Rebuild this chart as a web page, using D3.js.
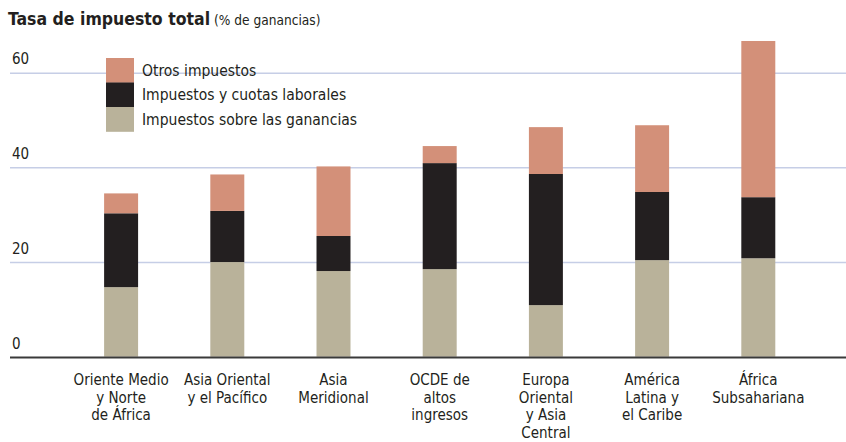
<!DOCTYPE html>
<html>
<head>
<meta charset="utf-8">
<script src="https://cdn.jsdelivr.net/npm/d3@7"></script>
<style>
  html, body { margin: 0; padding: 0; background: #fff; }
  svg { display: block; }
  text { font-family: "Liberation Sans Narrow", "DejaVu Sans Condensed", "Roboto Condensed", sans-serif; fill: #231f20; }
</style>
</head>
<body>
<svg id="chart" width="846" height="442"></svg>
<script>
// Regions shown along the x axis (each line of a label is one entry)
const regions = [
  ["Oriente Medio", "y Norte", "de África"],
  ["Asia Oriental", "y el Pacífico"],
  ["Asia", "Meridional"],
  ["OCDE de", "altos", "ingresos"],
  ["Europa", "Oriental", "y Asia", "Central"],
  ["América", "Latina y", "el Caribe"],
  ["África", "Subsahariana"]
];

// Tax components, % of profits
const profitTax = [14.7, 20.0, 18.1, 18.5, 10.9, 20.4, 20.8];
const laborTax  = [15.6, 10.8, 7.4, 22.4, 27.7, 14.4, 12.9];
const otherTax  = [4.2, 7.7, 14.7, 3.6, 9.9, 14.1, 33.0];

const seriesNames = ["Impuestos sobre las ganancias", "Impuestos y cuotas laborales", "Otros impuestos"];
const seriesColors = ["#b9b29a", "#231f20", "#d39079"];
const yTicks = [0, 20, 40, 60];

const svg = d3.select("#chart");
const keys = ["profit", "labor", "other"];
const rows = regions.map((r, i) => ({
  name: r.join(" "), lines: r,
  profit: profitTax[i], labor: laborTax[i], other: otherTax[i]
}));

const x = d3.scaleBand()
  .domain(rows.map(d => d.name))
  .range([68, 811.4])
  .paddingInner(0.68)
  .paddingOuter(0.34);

const y = d3.scaleLinear().domain([0, 60]).range([356.7, 72.7]);

const color = d3.scaleOrdinal().domain(keys).range(seriesColors);

// Gridlines with tick labels sitting above them
const grid = svg.append("g").attr("transform", "translate(10,0)")
  .call(d3.axisRight(y).tickValues(yTicks.filter(v => v > 0)).tickSize(836).tickFormat(d3.format("d")));
grid.select(".domain").remove();
grid.selectAll(".tick line").attr("stroke", "#c6cee6").attr("stroke-width", 1.5);
grid.selectAll(".tick text")
  .attr("x", 2).attr("dy", -9).attr("text-anchor", "start")
  .style("font-size", "15px").attr("fill", "#231f20");

// Stacked bars
const stack = d3.stack().keys(keys)(rows);
svg.append("g").selectAll("g").data(stack).join("g")
  .attr("fill", d => color(d.key))
  .selectAll("rect").data(d => d).join("rect")
  .attr("x", d => x(d.data.name))
  .attr("width", x.bandwidth())
  .attr("y", d => y(d[1]))
  .attr("height", d => y(d[0]) - y(d[1]));

// Zero label and baseline
svg.append("text").attr("x", 12).attr("y", y(0) - 8)
  .style("font-size", "15px").text(yTicks[0]);
svg.append("line")
  .attr("x1", 10).attr("x2", 846)
  .attr("y1", y(0) + 0.8).attr("y2", y(0) + 0.8)
  .attr("stroke", "#3a3a3a").attr("stroke-width", 2.2);

// Category labels
const labels = svg.append("g").selectAll("text").data(rows).join("text")
  .attr("text-anchor", "middle")
  .attr("transform", d => `translate(${x(d.name) + x.bandwidth() / 2},385)`)
  .style("font-size", "15px");
labels.selectAll("tspan").data(d => d.lines).join("tspan")
  .attr("x", 0).attr("dy", (l, i) => i === 0 ? 0 : 17.5)
  .text(l => l);

// Legend: top entry is the top segment of the stack
const legend = svg.append("g").attr("transform", "translate(106,58)");
const legendOrder = [2, 1, 0];
legendOrder.forEach((si, i) => {
  legend.append("rect").attr("x", 0).attr("y", i * 24.5).attr("width", 28).attr("height", 24.8)
    .attr("fill", seriesColors[si]);
  legend.append("text").attr("x", 36).attr("y", i * 24.5 + 17.5)
    .style("font-size", "15.5px").text(seriesNames[si]);
});

// Title
const title = svg.append("text").attr("x", 8).attr("y", 25);
title.append("tspan").style("font-weight", "bold").style("font-size", "17.5px").text("Tasa de impuesto total");
title.append("tspan").style("font-size", "13.6px").text(" (% de ganancias)");
</script>
</body>
</html>
